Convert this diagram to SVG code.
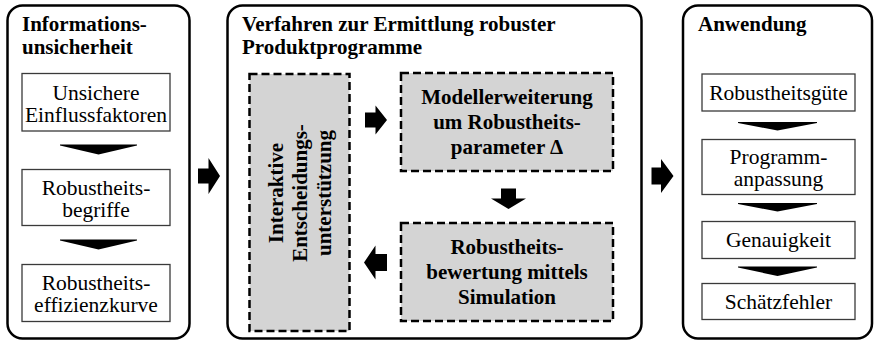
<svg xmlns="http://www.w3.org/2000/svg" width="875" height="342" viewBox="0 0 875 342">
<style>
.panel{fill:#fff;stroke:#000;stroke-width:2.5}
.box{fill:#fff;stroke:#3a3a3a;stroke-width:1.3}
.dbox{fill:#d4d4d4;stroke:#000;stroke-width:2.5;stroke-dasharray:8 4}
.t{font-family:"Liberation Serif","Times New Roman",serif;font-size:21.5px;fill:#000}
.b{font-weight:bold;font-size:21px}
.c{text-anchor:middle}
.ar{fill:#000}
</style>
<rect width="875" height="342" fill="#fff"/>
<g id="panel-info">
<rect class="panel" x="7.5" y="5.5" width="182" height="333" rx="15"/>
<text class="t b" x="22" y="31">Informations-</text>
<text class="t b" x="22" y="54">unsicherheit</text>
</g>
<g id="panel-verfahren">
<rect class="panel" x="227.5" y="5.5" width="414" height="333" rx="15"/>
<text class="t b" x="242" y="31">Verfahren zur Ermittlung robuster</text>
<text class="t b" x="242" y="54">Produktprogramme</text>
</g>
<g id="panel-anwendung">
<rect class="panel" x="683" y="5.5" width="189" height="333" rx="15"/>
<text class="t b" x="698" y="31">Anwendung</text>
</g>
<g id="n-einfluss">
<rect class="box" x="22" y="73.5" width="148" height="57.5"/>
<text class="t c" x="96" y="99.5">Unsichere</text>
<text class="t c" x="96" y="121.5">Einflussfaktoren</text>
</g>
<g id="n-begriffe">
<rect class="box" x="22" y="169.5" width="148" height="56"/>
<text class="t c" x="96" y="194.5">Robustheits-</text>
<text class="t c" x="96" y="216.5">begriffe</text>
</g>
<g id="n-kurve">
<rect class="box" x="22" y="264.5" width="148" height="57"/>
<text class="t c" x="96" y="289.5">Robustheits-</text>
<text class="t c" x="96" y="311.5">effizienzkurve</text>
</g>
<g id="n-interaktiv">
<rect class="dbox" x="249.5" y="74" width="100" height="257"/>
<g transform="translate(299.5 193) rotate(-90)">
<text class="t b c" x="0" y="-16.5">Interaktive</text>
<text class="t b c" x="0" y="7.5">Entscheidungs-</text>
<text class="t b c" x="0" y="31.5">unterstützung</text>
</g>
</g>
<g id="n-modell">
<rect class="dbox" x="401" y="73" width="212" height="98"/>
<text class="t b c" x="507" y="104">Modellerweiterung</text>
<text class="t b c" x="507" y="129">um Robustheits-</text>
<text class="t b c" x="507" y="154">parameter Δ</text>
</g>
<g id="n-bewertung">
<rect class="dbox" x="401" y="223" width="212" height="98"/>
<text class="t b c" x="507" y="254">Robustheits-</text>
<text class="t b c" x="507" y="279">bewertung mittels</text>
<text class="t b c" x="507" y="304">Simulation</text>
</g>
<g id="n-guete">
<rect class="box" x="702" y="74" width="153" height="37"/>
<text class="t c" x="778.5" y="99.5">Robustheitsgüte</text>
</g>
<g id="n-anpassung">
<rect class="box" x="702" y="139.5" width="153" height="55"/>
<text class="t c" x="778.5" y="164">Programm-</text>
<text class="t c" x="778.5" y="186">anpassung</text>
</g>
<g id="n-genauigkeit">
<rect class="box" x="702" y="221.5" width="153" height="37"/>
<text class="t c" x="778.5" y="247">Genauigkeit</text>
</g>
<g id="n-schaetz">
<rect class="box" x="702" y="283.5" width="153" height="36"/>
<text class="t c" x="778.5" y="308.5">Schätzfehler</text>
</g>
<g id="connectors">
<polygon class="ar" points="60,144.5 137,144.5 137,145.5 98.5,154.5 60,145.5"/>
<polygon class="ar" points="60,239.5 137,239.5 137,240.5 98.5,249.5 60,240.5"/>
<polygon class="ar" points="738,122 817,122 817,123 777.5,130.5 738,123"/>
<polygon class="ar" points="738,203 817,203 817,204 777.5,211.5 738,204"/>
<polygon class="ar" points="738,266.5 817,266.5 817,267.5 777.5,276 738,267.5"/>
<polygon class="ar" points="198,168.5 208.5,168.5 208.5,158 220,176 208.5,194 208.5,183.5 198,183.5"/>
<polygon class="ar" points="651.5,167.5 661,167.5 661,159 673.5,176 661,193 661,184.5 651.5,184.5"/>
<polygon class="ar" points="365,112.5 375.5,112.5 375.5,105.5 387,120 375.5,134.5 375.5,127.5 365,127.5"/>
<polygon class="ar" points="387,254 375.5,254 375.5,245.5 364,262.5 375.5,279.5 375.5,271 387,271"/>
<polygon class="ar" points="501,188.5 516,188.5 516,198.5 526,198.5 508.5,209 491,198.5 501,198.5"/>
</g>
</svg>
